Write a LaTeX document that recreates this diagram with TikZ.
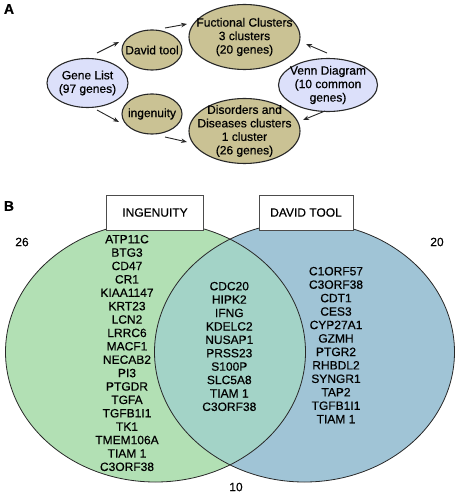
\documentclass[tikz,border=0pt]{standalone}
\usepackage{fontspec}
\setmainfont{Liberation Sans}[FakeBold=0.5]
\usetikzlibrary{shapes.geometric,arrows.meta}
\definecolor{grnFill}{RGB}{178,224,180}
\definecolor{bluFill}{RGB}{160,196,214}
\definecolor{mixFill}{RGB}{163,211,199}
\definecolor{tanFill}{RGB}{202,194,148}
\definecolor{lavFill}{RGB}{220,224,250}
\definecolor{edgeCol}{RGB}{40,40,40}
\begin{document}
\begin{tikzpicture}[x=1pt,y=-1pt,
  txt/.style={font=\fontsize{12}{13.5}\selectfont, align=center, inner sep=0pt},
  tanell/.style={ellipse, draw=edgeCol, fill=tanFill, line width=1.1pt, inner sep=0pt},
  lavell/.style={ellipse, draw=edgeCol, fill=lavFill, line width=1.1pt, inner sep=0pt},
  arr/.style={-{Stealth[length=6pt,width=4.5pt]}, line width=0.9pt, draw=black!85},
  gene/.style={font=\fontsize{12}{14}\selectfont, inner sep=0pt, text height=8.6pt, text depth=0pt},
  setbox/.style={draw=gray!60!black, fill=white, line width=0.9pt, inner sep=0pt, minimum height=35pt, font=\fontsize{12}{14}\selectfont},
  panel/.style={font=\bfseries\fontsize{14}{16}\selectfont, inner sep=0pt},
  num/.style={font=\fontsize{12}{14}\selectfont, inner sep=0pt}
]
\useasboundingbox (0,0) rectangle (459,494);

% ---------- Panel A ----------
\node[panel] (pA) at (9,9) {A};

\node[lavell, minimum width=81pt, minimum height=49pt,
  label={[txt]center:Gene List\\(97 genes)}] (gene) at (87.5,83) {};
\node[tanell, minimum width=60pt, minimum height=40pt,
  label={[txt]center:David tool}] (david) at (152,50) {};
\node[tanell, minimum width=60pt, minimum height=40pt,
  label={[txt]center:ingenuity}] (ingen) at (152,114) {};
\node[tanell, minimum width=111pt, minimum height=65pt,
  label={[txt]center:Fuctional Clusters\\3 clusters\\(20 genes)}] (func) at (244.5,37) {};
\node[tanell, minimum width=111pt, minimum height=65pt,
  label={[txt]center:Disorders and\\Diseases clusters\\1 cluster\\(26 genes)}] (dis) at (244.5,131) {};
\node[lavell, minimum width=99pt, minimum height=53pt,
  label={[txt]center:Venn Diagram\\(10 common\\genes)}] (venn) at (328,85) {};

\draw[arr] ([shift={(9.5,-30)}]gene.center) -- ([shift={(-33,-8)}]david.center);
\draw[arr] ([shift={(13,-22)}]david.center) -- ([shift={(-57.5,-13)}]func.center);
\draw[arr] ([shift={(9.5,27)}]gene.center) -- ([shift={(-33,8)}]ingen.center);
\draw[arr] ([shift={(13,23)}]ingen.center) -- ([shift={(-57.5,11)}]dis.center);
\draw[arr] ([shift={(-1,-32)}]venn.center) -- ([shift={(61.5,7)}]func.center);
\draw[arr] ([shift={(-3,26)}]venn.center) -- ([shift={(58.5,-11)}]dis.center);

% ---------- Panel B ----------
\node[panel] (pB) at (9,206) {B};

\fill[grnFill] (155.5,352) ellipse [x radius=150pt, y radius=130pt];
\fill[bluFill] (304.5,352) ellipse [x radius=150pt, y radius=130pt];
\begin{scope}
  \clip (155.5,352) ellipse [x radius=150pt, y radius=130pt];
  \fill[mixFill] (304.5,352) ellipse [x radius=150pt, y radius=130pt];
\end{scope}
\draw[edgeCol, line width=0.8pt] (155.5,352) ellipse [x radius=150pt, y radius=130pt];
\draw[edgeCol, line width=0.8pt] (304.5,352) ellipse [x radius=150pt, y radius=130pt];

\node[setbox, minimum width=97pt] (ingbox) at (155,212.5) {INGENUITY};
\node[setbox, minimum width=94pt] (davbox) at (306,212.5) {DAVID TOOL};

\node[num] (n26) at (22,242) {26};
\node[num] (n20) at (437,242) {20};
\node[num] (n10) at (236,487) {10};

\foreach \g [count=\i] in {ATP11C,BTG3,CD47,CR1,KIAA1147,KRT23,LCN2,LRRC6,MACF1,NECAB2,PI3,PTGDR,TGFA,TGFB1I1,TK1,TMEM106A,TIAM 1,C3ORF38}
  \node[gene] (left\i) at (127,{239+13.39*(\i-1)}) {\g};
\foreach \g [count=\i] in {CDC20,HIPK2,IFNG,KDELC2,NUSAP1,PRSS23,S100P,SLC5A8,TIAM 1,C3ORF38}
  \node[gene] (mid\i) at (229.3,{286+13.4*(\i-1)}) {\g};
\foreach \g [count=\i] in {C1ORF57,C3ORF38,CDT1,CES3,CYP27A1,GZMH,PTGR2,RHBDL2,SYNGR1,TAP2,TGFB1I1,TIAM 1}
  \node[gene] (right\i) at (336,{271+13.45*(\i-1)}) {\g};
\end{tikzpicture}
\end{document}
